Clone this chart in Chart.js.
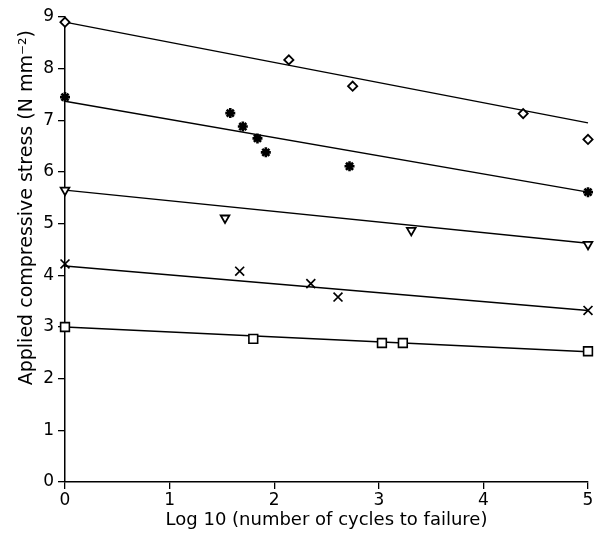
<!DOCTYPE html>
<html>
<head>
<meta charset="utf-8">
<script src="https://cdn.jsdelivr.net/npm/chart.js@4/dist/chart.umd.min.js"></script>
<style>
html,body{margin:0;padding:0;background:#fff;}
#wrap{width:605px;height:549px;position:relative;}
</style>
</head>
<body>
<div id="wrap"><canvas id="c" width="605" height="549"></canvas></div>
<script>
// Data
const diamondX = [0, 2.14, 2.75, 4.38, 5.0];
const diamondY = [8.9, 8.17, 7.66, 7.13, 6.63];
const asteriskX = [0, 1.58, 1.70, 1.84, 1.92, 2.72, 5.0];
const asteriskY = [7.45, 7.14, 6.88, 6.65, 6.38, 6.11, 5.61];
const triangleX = [0, 1.53, 3.31, 5.0];
const triangleY = [5.65, 5.11, 4.87, 4.60];
const crossX = [0, 1.67, 2.35, 2.61, 5.0];
const crossY = [4.22, 4.08, 3.84, 3.58, 3.32];
const squareX = [0, 1.80, 3.03, 3.23, 5.0];
const squareY = [3.0, 2.77, 2.69, 2.69, 2.53];
// fitted lines: value at x = 0 and at x = 5
const fitX = [0, 5];
const fitStart = [8.9, 7.37, 5.65, 4.18, 3.0];
const fitEnd = [6.95, 5.61, 4.62, 3.32, 2.52];
const xTicks = [0, 1, 2, 3, 4, 5];
const yTicks = [0, 1, 2, 3, 4, 5, 6, 7, 8, 9];
const xTitle = 'Log 10 (number of cycles to failure)';
const yTitle = 'Applied compressive stress (N mm\u207B\u00B2)';

const pts = (xs, ys) => xs.map((x, i) => ({x: x, y: ys[i]}));

const datasets = [];
fitStart.forEach((s, i) => {
  datasets.push({
    type: 'line',
    data: pts(fitX, [s, fitEnd[i]]),
    borderColor: '#000',
    borderWidth: 1.4,
    pointRadius: 0,
    fill: false,
    clip: false,
    order: 2
  });
});
function marker(xs, ys, style, r, bw, fill, rot) {
  return {
    type: 'scatter',
    data: pts(xs, ys),
    pointStyle: style,
    pointRadius: r,
    pointBorderWidth: bw,
    pointBorderColor: '#000',
    pointBackgroundColor: fill,
    pointRotation: rot || 0,
    clip: false,
    order: 1
  };
}
datasets.push(marker(diamondX, diamondY, 'rectRot', 4.6, 1.8, '#fff'));
datasets.push(marker(asteriskX, asteriskY, 'star', 5, 2.6, '#000'));
datasets.push(marker(triangleX, triangleY, 'triangle', 5, 1.8, '#fff', 180));
datasets.push(marker(crossX, crossY, 'crossRot', 6.3, 1.7, '#000'));
datasets.push(marker(squareX, squareY, 'rect', 6.2, 1.6, '#fff'));

const FAM = '"DejaVu Sans", "Liberation Sans", Arial, sans-serif';
const tickFont = {family: FAM, size: 17};
const xTitleFont = {family: FAM, size: 18};

// y-axis title drawn as real text, placed where the reference has it
const yTitlePlugin = {
  id: 'yTitle',
  afterDraw(chart) {
    const ctx = chart.ctx;
    const area = chart.chartArea;
    ctx.save();
    ctx.translate(27, area.top + (area.bottom - area.top) * 0.41);
    ctx.rotate(-Math.PI / 2);
    ctx.font = '19px ' + FAM;
    ctx.fillStyle = '#000';
    ctx.textAlign = 'center';
    ctx.textBaseline = 'middle';
    ctx.fillText(yTitle, 0, 0);
    ctx.restore();
  }
};

new Chart(document.getElementById('c'), {
  type: 'scatter',
  data: {datasets: datasets},
  plugins: [yTitlePlugin],
  options: {
    responsive: false,
    animation: false,
    events: [],
    layout: {padding: {top: 17, right: 17, left: 0, bottom: 0}},
    plugins: {legend: {display: false}, tooltip: {enabled: false}},
    scales: {
      x: {
        type: 'linear', min: 0, max: 5,
        afterBuildTicks: s => { s.ticks = xTicks.map(v => ({value: v})); },
        afterFit: s => { s.height = 67; },
        grid: {drawOnChartArea: false, drawTicks: true, tickLength: 7, color: '#000', lineWidth: 1.3},
        border: {color: '#000', width: 1.5},
        ticks: {color: '#000', font: tickFont, padding: 1, maxRotation: 0},
        title: {display: true, text: xTitle, color: '#000', font: xTitleFont, padding: {top: 0, bottom: 18}}
      },
      y: {
        type: 'linear', min: 0, max: 9,
        afterBuildTicks: s => { s.ticks = yTicks.map(v => ({value: v})); },
        afterFit: s => { s.width = 65; },
        grid: {drawOnChartArea: false, drawTicks: true, tickLength: 7, color: '#000', lineWidth: 1.3},
        border: {color: '#000', width: 1.5},
        ticks: {color: '#000', font: tickFont, padding: 4},
        title: {display: false}
      }
    }
  }
});
</script>
</body>
</html>
